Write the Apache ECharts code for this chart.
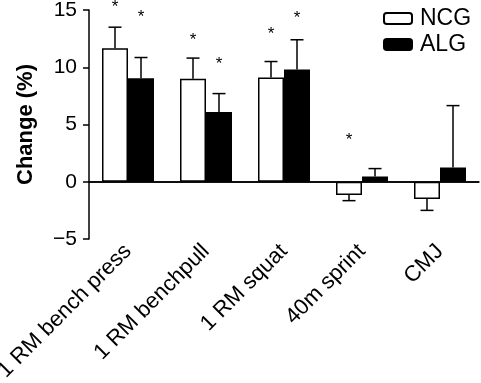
<!DOCTYPE html>
<html><head><meta charset="utf-8">
<script src="https://cdn.jsdelivr.net/npm/echarts@6/dist/echarts.min.js"></script>
<style>html,body{margin:0;padding:0;background:#fff}#c{width:481px;height:383px}</style>
</head><body><div id="c"></div>
<script>
const categories = ['1 RM bench press', '1 RM benchpull', '1 RM squat', '40m sprint', 'CMJ'];
const ncgValues = [11.65, 9.0, 9.1, -1.15, -1.5];
const algValues = [9.05, 6.1, 9.8, 0.45, 1.25];
const ncgErr = [1.85, 1.8, 1.4, 0.5, 1.0];
const algErr = [1.8, 1.6, 2.6, 0.7, 5.4];
const ncgStars = [15.5, 12.65, 13.1, 3.9, null];
const algStars = [14.65, 10.5, 14.5, null, null];
const yTicks = [-5, 0, 5, 10, 15];

const FONT = 'Liberation Sans, Arial, Helvetica, sans-serif';
const BW = 26;

function errSeries(name, vals, errs, stars, offset) {
  return {
    type: 'custom', name: name + '_err', silent: true, z: 5, clip: false,
    data: vals.map((v, i) => [i, v, errs[i], stars[i]]),
    renderItem: function (params, api) {
      const i = api.value(0), v = api.value(1), e = api.value(2), s = api.value(3);
      const dir = v >= 0 ? 1 : -1;
      const p0 = api.coord([i, v]);
      const p1 = api.coord([i, v + dir * e]);
      const x = p0[0] + offset;
      const children = [
        { type: 'line', shape: { x1: x, y1: p0[1], x2: x, y2: p1[1] }, style: { stroke: '#000', lineWidth: 1.5 } },
        { type: 'line', shape: { x1: x - 6.5, y1: p1[1], x2: x + 6.5, y2: p1[1] }, style: { stroke: '#000', lineWidth: 1.5 } }
      ];
      if (s != null && !isNaN(s)) {
        const ps = api.coord([i, s]);
        children.push({ type: 'text', style: { text: '*', x: x, y: ps[1] + 3, fill: '#000', font: '17px ' + FONT, align: 'center', verticalAlign: 'middle' } });
      }
      return { type: 'group', children: children };
    }
  };
}

const chart = echarts.init(document.getElementById('c'));
chart.setOption({
  backgroundColor: '#fff',
  animation: false,
  textStyle: { fontFamily: FONT },
  grid: { left: 89, right: 2, top: 10, bottom: 144, containLabel: false, outerBoundsMode: 'none' },
  legend: {
    orient: 'vertical', left: 378, top: 2,
    itemWidth: 28, itemHeight: 11, itemGap: 3,
    data: ['NCG', 'ALG'],
    textStyle: { fontSize: 23, lineHeight: 23, color: '#000', fontFamily: FONT, padding: [0, 0, 0, 3] }
  },
  xAxis: {
    type: 'category', data: categories,
    axisLine: { lineStyle: { color: '#000', width: 1.5 } },
    axisTick: { alignWithLabel: true, length: 6, lineStyle: { color: '#000', width: 1.5 } },
    axisLabel: { rotate: 45, fontSize: 22, color: '#000', margin: 9, interval: 0 }
  },
  yAxis: {
    type: 'value', min: -5, max: 15, interval: 5,
    name: 'Change (%)', nameLocation: 'middle', nameGap: 52,
    nameTextStyle: { fontSize: 22, fontWeight: 'bold', color: '#000' },
    splitLine: { show: false },
    axisLine: { show: true, lineStyle: { color: '#000', width: 1.5 } },
    axisTick: { show: true, length: 6, lineStyle: { color: '#000', width: 1.5 } },
    axisLabel: {
      fontSize: 21, color: '#000', margin: 12,
      formatter: v => yTicks.includes(v) ? String(v).replace('-', '\u2212') : ''
    }
  },
  series: [
    {
      name: 'NCG', type: 'bar', data: ncgValues, barWidth: BW, barGap: '0%',
      itemStyle: { color: '#fff', borderColor: '#000', borderWidth: 1.5 },
      markLine: {
        silent: true, symbol: 'none', label: { show: false },
        lineStyle: { color: '#000', width: 1.5, type: 'solid' },
        data: [{ yAxis: 0 }]
      }
    },
    {
      name: 'ALG', type: 'bar', data: algValues, barWidth: BW, barGap: '0%',
      itemStyle: { color: '#000', borderColor: '#000', borderWidth: 1.5 }
    },
    errSeries('NCG', ncgValues, ncgErr, ncgStars, -BW / 2),
    errSeries('ALG', algValues, algErr, algStars, BW / 2)
  ]
});
</script></body></html>
